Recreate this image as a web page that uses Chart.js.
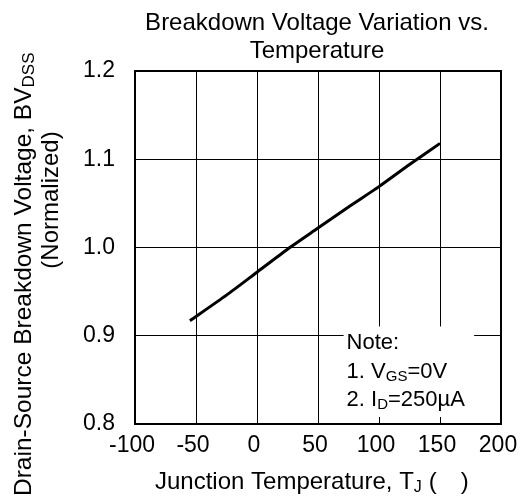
<!DOCTYPE html>
<html>
<head>
<meta charset="utf-8">
<script src="https://cdn.jsdelivr.net/npm/chart.js@4.4.1/dist/chart.umd.min.js"></script>
<style>
  html, body { margin: 0; padding: 0; background: #fff; }
  #wrap { width: 524px; height: 499px; }
</style>
</head>
<body>
<div id="wrap"><canvas id="bvChart" width="524" height="499"></canvas></div>
<script>
// values
const temps = [-55, -25, 0, 25, 50, 75, 100, 125, 150];
const bvdss = [0.917, 0.946, 0.972, 0.998, 1.022, 1.046, 1.069, 1.094, 1.118];

const xTicks = [-100, -50, 0, 50, 100, 150, 200];
const yTicks = [0.8, 0.9, 1.0, 1.1, 1.2];

const titleLines = ['Breakdown Voltage Variation vs.', 'Temperature'];

const FONT = '"Liberation Sans", Arial, sans-serif';

// draws a run of text pieces, [text, isSubscript], left to right from x
function drawRun(ctx, parts, x, y, size) {
  parts.forEach(p => {
    const small = p[1];
    ctx.font = (small ? Math.round(size * 0.68) : size) + 'px ' + FONT;
    ctx.fillText(p[0], x, small ? y + 3 : y);
    x += ctx.measureText(p[0]).width;
  });
  return x;
}

const labelsPlugin = {
  id: 'labels',
  afterDatasetsDraw(chart) {
    const ctx = chart.ctx;
    const a = chart.chartArea;
    const xs = chart.scales.x, ys = chart.scales.y;
    ctx.save();

    // note box, blanks out the grid behind it
    const bx = xs.getPixelForValue(71), bw = xs.getPixelForValue(178) - bx;
    const by = ys.getPixelForValue(0.9105), bh = ys.getPixelForValue(0.808) - by;
    ctx.fillStyle = '#fff';
    ctx.fillRect(bx, by, bw, bh);

    ctx.fillStyle = '#000';
    ctx.textAlign = 'left';
    ctx.textBaseline = 'alphabetic';
    const nx = bx + 3;
    drawRun(ctx, [['Note:', false]], nx, 349, 22);
    drawRun(ctx, [['1. V', false], ['GS', true], ['=0V', false]], nx, 378, 22);
    drawRun(ctx, [['2. I', false], ['D', true], ['=250\u00b5A', false]], nx, 406, 22);

    // frame
    ctx.strokeStyle = '#000';
    ctx.lineWidth = 2;
    ctx.strokeRect(a.left, a.top, a.right - a.left, a.bottom - a.top);

    // title, centred over the plot
    ctx.font = '24px ' + FONT;
    ctx.textAlign = 'center';
    const cx = (a.left + a.right) / 2 - 1;
    ctx.fillText(titleLines[0], cx, 30);
    ctx.fillText(titleLines[1], cx, 58);
    ctx.textAlign = 'left';

    // x axis title
    let x = drawRun(ctx, [['Junction Temperature, T', false], ['J', true]], 155, 489, 24);
    ctx.font = '24px ' + FONT;
    x += 7;
    ctx.fillText('(', x, 489);
    x += ctx.measureText('(').width + 24;
    ctx.fillText(')', x, 489);

    // y axis title, two rotated lines
    ctx.save();
    ctx.translate(31, 496);
    ctx.rotate(-Math.PI / 2);
    drawRun(ctx, [['Drain-Source Breakdown Voltage, BV', false], ['DSS', true]], 0, 0, 24.5);
    ctx.restore();

    ctx.save();
    ctx.translate(58, 200);
    ctx.rotate(-Math.PI / 2);
    ctx.font = '24px ' + FONT;
    ctx.textAlign = 'center';
    ctx.fillText('(Normalized)', 0, 0);
    ctx.restore();

    ctx.restore();
  }
};

new Chart(document.getElementById('bvChart'), {
  type: 'line',
  data: {
    datasets: [{
      data: temps.map((t, i) => ({ x: t, y: bvdss[i] })),
      borderColor: '#000',
      borderWidth: 3,
      pointRadius: 0,
      tension: 0.2,
      fill: false
    }]
  },
  options: {
    responsive: false,
    animation: false,
    layout: { padding: { left: 0, right: 23, top: 71, bottom: 0 } },
    plugins: {
      legend: { display: false },
      tooltip: { enabled: false },
      title: { display: false }
    },
    scales: {
      x: {
        type: 'linear',
        min: -100,
        max: 200,
        afterBuildTicks: s => { s.ticks = xTicks.map(v => ({ value: v })); },
        afterFit: s => { s.height = 75; s.paddingLeft = 0; s.paddingRight = 0; },
        grid: { color: '#000', lineWidth: 1, drawTicks: false },
        border: { display: false },
        ticks: { color: '#000', font: { family: FONT, size: 23 }, padding: 8, labelOffset: -3, maxRotation: 0 }
      },
      y: {
        min: 0.8,
        max: 1.2,
        afterBuildTicks: s => { s.ticks = yTicks.map(v => ({ value: v })); },
        afterFit: s => { s.width = 135; s.paddingTop = 0; s.paddingBottom = 0; },
        grid: { color: '#000', lineWidth: 1, drawTicks: false },
        border: { display: false },
        ticks: { color: '#000', font: { family: FONT, size: 23 }, padding: 20, callback: v => v.toFixed(1) }
      }
    }
  },
  plugins: [labelsPlugin]
});
</script>
</body>
</html>
